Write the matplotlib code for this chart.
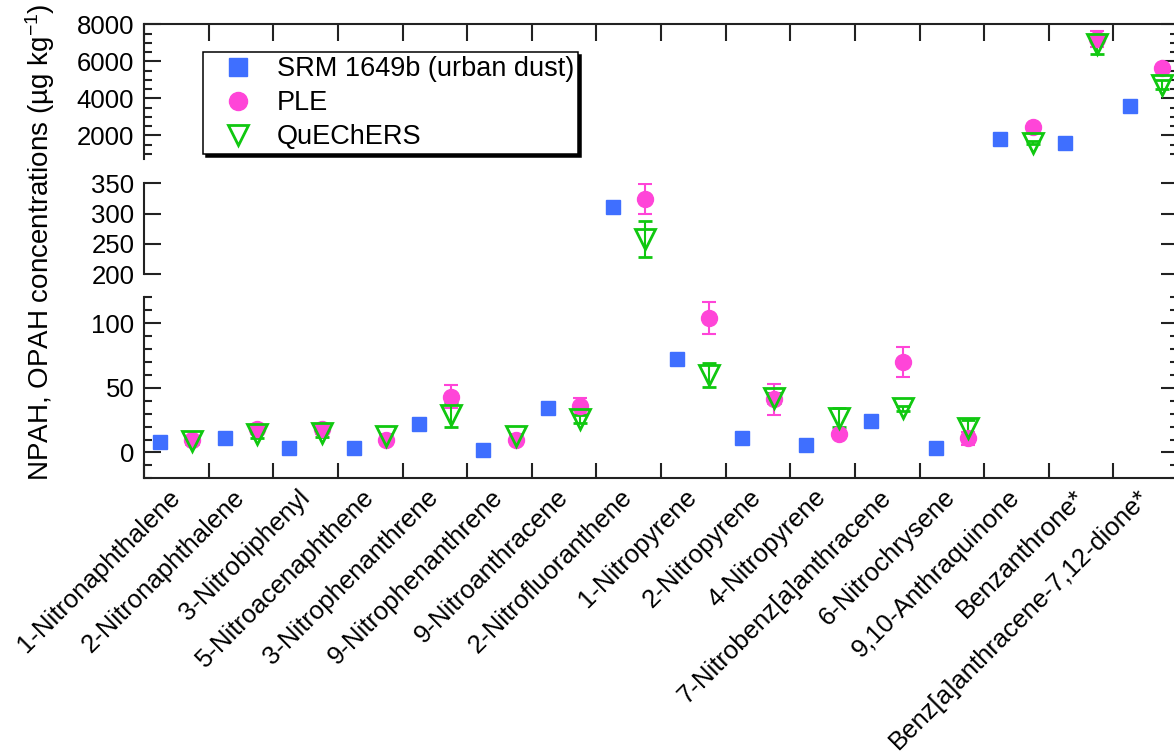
import numpy as np
import matplotlib.pyplot as plt
from matplotlib.lines import Line2D
from matplotlib.ticker import MultipleLocator

plt.rcParams['font.family'] = ['Liberation Sans', 'DejaVu Sans']
plt.rcParams['mathtext.fontset'] = 'custom'
plt.rcParams['mathtext.rm'] = 'Liberation Sans'
plt.rcParams['mathtext.default'] = 'regular'

# Data (ug/kg)
compounds = ["1-Nitronaphthalene", "2-Nitronaphthalene", "3-Nitrobiphenyl",
             "5-Nitroacenaphthene", "3-Nitrophenanthrene", "9-Nitrophenanthrene",
             "9-Nitroanthracene", "2-Nitrofluoranthene", "1-Nitropyrene",
             "2-Nitropyrene", "4-Nitropyrene", "7-Nitrobenz[a]anthracene",
             "6-Nitrochrysene", "9,10-Anthraquinone", "Benzanthrone*",
             "Benz[a]anthracene-7,12-dione*"]
srm = [7.7, 11.5, 3.5, 3.5, 22.3, 2.0, 34.6, 311, 72.3, 11.2, 5.9, 24.3, 3.8, 1800, 1585, 3585]
srm_err = [1, 1, 1, 1, 1.5, 1, 1.5, 4, 2, 1, 1, 1.5, 1, 40, 40, 40]
ple = [10, 18, 18, 10, 43, 10, 36, 324, 104, 41, 14, 70, 11, 2460, 7200, 5640]
ple_err = [1.5, 4, 4, 1.5, 9, 2, 6, 25, 12, 12, 2, 11.5, 5, 60, 450, 150]
que = [8.5, 14, 15, 12.5, 29, 13, 26, 258, 60, 42, 27, 34, 19, 1600, 6950, 4730]
que_err = [2, 3, 3, 1.5, 9, 1.5, 3, 30, 9, 4, 7, 2, 6, 80, 550, 250]

blue = '#3F6FFF'
pink = '#FF45D8'
green = '#10C810'
dark = '#222222'

W, H = 1174, 756
fig = plt.figure(figsize=(W / 100, H / 100), dpi=100)


def box(x0, y0, x1, y1):
    # pixel box (top-left origin) -> figure fraction
    return [x0 / W, 1 - y1 / H, (x1 - x0) / W, (y1 - y0) / H]


ax_top = fig.add_axes(box(144, 24.3, 1178, 159.3))
ax_mid = fig.add_axes(box(144, 183.3, 1178, 274.3))
ax_bot = fig.add_axes(box(144, 297.3, 1178, 478.3))
panels = [(ax_top, 700, 8000), (ax_mid, 200, 350), (ax_bot, -20, 120)]

x = np.arange(len(compounds))
eb = dict(capsize=5, elinewidth=1.5, capthick=1.5, linestyle='none')


def draw(ax, lo, hi, xs, vals, errs, **kw):
    vals = np.asarray(vals, float)
    errs = np.asarray(errs, float)
    keep = (vals >= lo) & (vals <= hi)
    ax.errorbar(xs[keep], vals[keep], yerr=errs[keep], **eb, **kw)


for ax, lo, hi in panels:
    draw(ax, lo, hi, x + 0.25, srm, srm_err, fmt='s', ms=9.5, color=blue)
    draw(ax, lo, hi, x + 0.75, ple, ple_err, fmt='o', ms=11.5, color=pink)
    draw(ax, lo, hi, x + 0.75, que, que_err, fmt='v', ms=14, color=green,
         mfc='none', mec=green, mew=2)
    ax.set_xlim(0, len(compounds))
    ax.set_ylim(lo, hi)
    for s in ax.spines.values():
        s.set_linewidth(1.5)
        s.set_color(dark)
    ax.tick_params(axis='y', which='both', direction='in', left=True, right=True,
                   labelright=False, width=1.5, color=dark, labelsize=18.5, pad=7)
    ax.tick_params(axis='y', which='major', length=12)
    ax.tick_params(axis='y', which='minor', length=6)

# top panel
ax_top.set_yticks([2000, 4000, 6000, 8000])
ax_top.yaxis.set_minor_locator(MultipleLocator(500))
ax_top.spines['bottom'].set_visible(False)
ax_top.set_xticks(np.arange(len(compounds) + 1))
ax_top.tick_params(axis='x', which='both', top=True, bottom=False, labelbottom=False,
                   labeltop=False, direction='in', length=12, width=1.5, color=dark)

# middle panel
ax_mid.set_yticks([200, 250, 300, 350])
ax_mid.spines['top'].set_visible(False)
ax_mid.spines['bottom'].set_visible(False)
ax_mid.set_xticks([])

# bottom panel
ax_bot.set_yticks([0, 50, 100])
ax_bot.yaxis.set_minor_locator(MultipleLocator(10))
ax_bot.spines['top'].set_visible(False)
ax_bot.set_xticks(np.arange(len(compounds) + 1))
ax_bot.set_xticklabels([])
ax_bot.set_xticks(x + 0.5, compounds, minor=True, rotation=45, ha='right',
                  va='center', rotation_mode='anchor', fontsize=18.5)
ax_bot.tick_params(axis='x', which='major', direction='in', length=11, width=1.5,
                   color=dark, top=False)
ax_bot.tick_params(axis='x', which='minor', length=0, pad=11, top=False)

fig.text(0.034, 0.68, 'NPAH, OPAH concentrations (µg kg$^{-1}$)', rotation=90,
         fontsize=20, ha='center', va='center')

handles = [
    Line2D([], [], marker='s', ls='none', ms=12.5, color=blue),
    Line2D([], [], marker='o', ls='none', ms=13, color=pink),
    Line2D([], [], marker='v', ls='none', ms=15, mfc='none', mec=green, mew=2),
]
leg = ax_top.legend(handles, ["SRM 1649b (urban dust)", "PLE", "QuEChERS"],
                    loc='upper left', bbox_to_anchor=(203 / W, 1 - 52 / H),
                    bbox_transform=fig.transFigure, borderaxespad=0, borderpad=0.15,
                    handlelength=2.3, handletextpad=0.27, labelspacing=0.3,
                    fontsize=19.5, fancybox=False, framealpha=1,
                    shadow={'color': 'black', 'alpha': 1})
leg.get_frame().set_edgecolor('black')
leg.get_frame().set_linewidth(1.1)

fig.savefig('out.png', dpi=100)
